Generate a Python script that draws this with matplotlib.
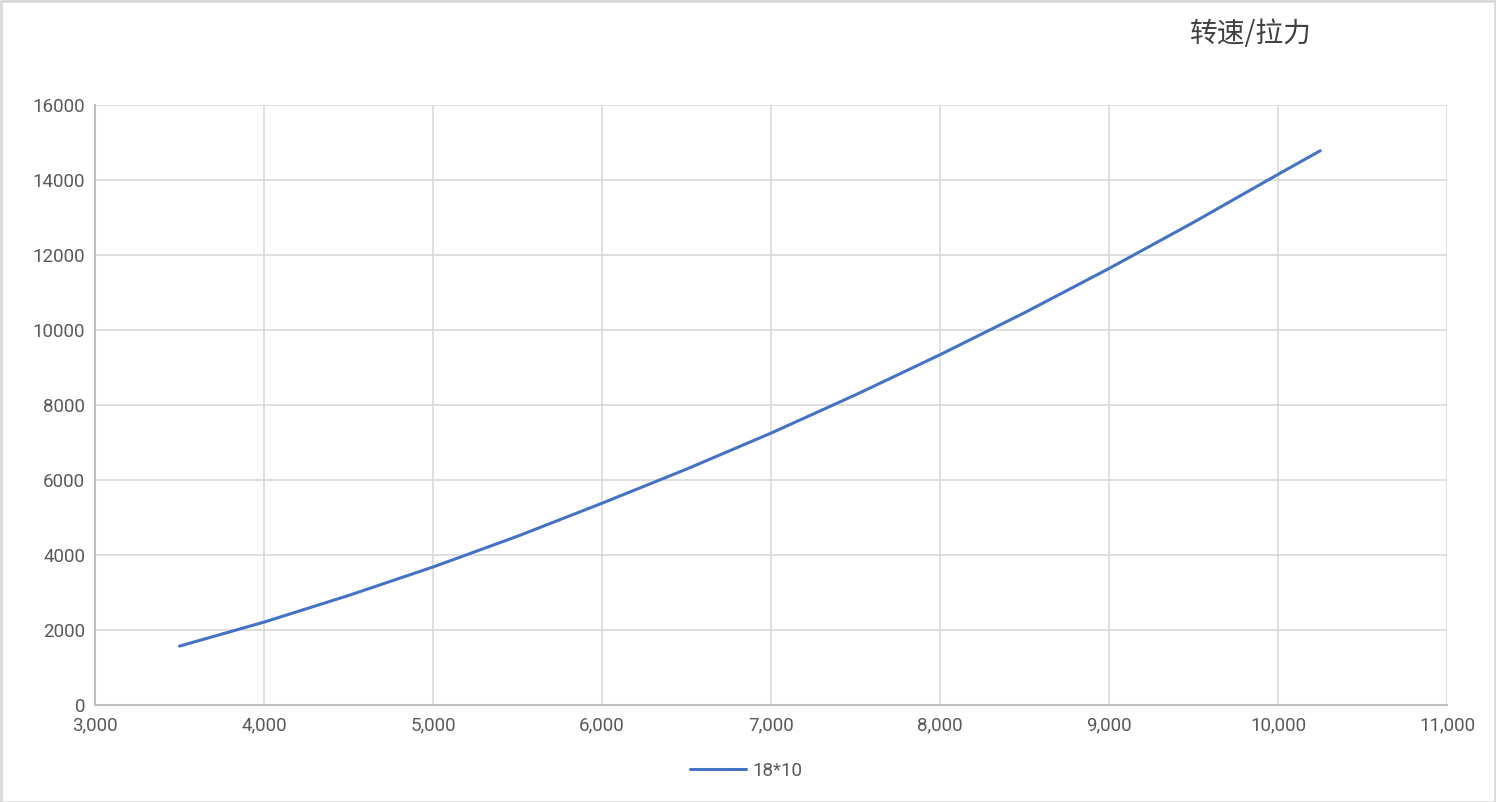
import matplotlib
matplotlib.use('Agg')
import matplotlib.pyplot as plt
from matplotlib.patches import Rectangle
from matplotlib.ticker import FuncFormatter, MultipleLocator

plt.rcParams['font.family'] = ['Roboto', 'Noto Sans CJK SC', 'DejaVu Sans']

# speed (rpm) vs pull force
speed = [3500, 4000, 4500, 5000, 5500, 6000, 6500, 7000, 7500,
         8000, 8500, 9000, 9500, 10000, 10250]
force = [1570, 2210, 2920, 3680, 4500, 5380, 6290, 7250, 8270,
         9340, 10460, 11640, 12870, 14150, 14780]
series_name = '18*10'
title = '转速/拉力'

W, H = 1496, 802
fig = plt.figure(figsize=(W / 100, H / 100), dpi=100)
ax = fig.add_axes([95 / W, (H - 705) / H, 1352 / W, 600 / H])

ax.plot(speed, force, color='#4472C4', linewidth=2.2, label=series_name,
        solid_capstyle='round')

ax.set_xlim(3000, 11000)
ax.set_ylim(0, 16000)
ax.xaxis.set_major_locator(MultipleLocator(1000))
ax.yaxis.set_major_locator(MultipleLocator(2000))
ax.xaxis.set_major_formatter(FuncFormatter(lambda v, p: f'{int(v):,}'))
ax.yaxis.set_major_formatter(FuncFormatter(lambda v, p: f'{int(v)}'))

ax.grid(True, color='#d9d9d9', linewidth=1.2)
ax.set_axisbelow(True)
for s in ['top', 'right']:
    ax.spines[s].set_visible(False)
for s in ['left', 'bottom']:
    ax.spines[s].set_color('#bfbfbf')
    ax.spines[s].set_linewidth(1.5)
ax.tick_params(length=0, labelsize=13.5, labelcolor='#595959')
ax.tick_params(axis='x', pad=8)
ax.tick_params(axis='y', pad=7)

fig.text(1251 / W, 1 - 34 / H, title, fontsize=20, color='#404040',
         ha='center', va='center', family=['Noto Sans CJK SC', 'DejaVu Sans'])

leg = fig.legend(loc='center', bbox_to_anchor=(746 / W, 1 - 771 / H),
                 frameon=False, fontsize=13.5, handlelength=3.0,
                 handletextpad=0.3)
for t in leg.get_texts():
    t.set_color('#595959')

fig.patches.append(Rectangle((0.5 / W, 0.5 / H), 1 - 1.5 / W, 1 - 1.5 / H,
                             transform=fig.transFigure, fill=False,
                             edgecolor='#d9d9d9', linewidth=2))

fig.savefig('out.png', dpi=100, facecolor='white')
